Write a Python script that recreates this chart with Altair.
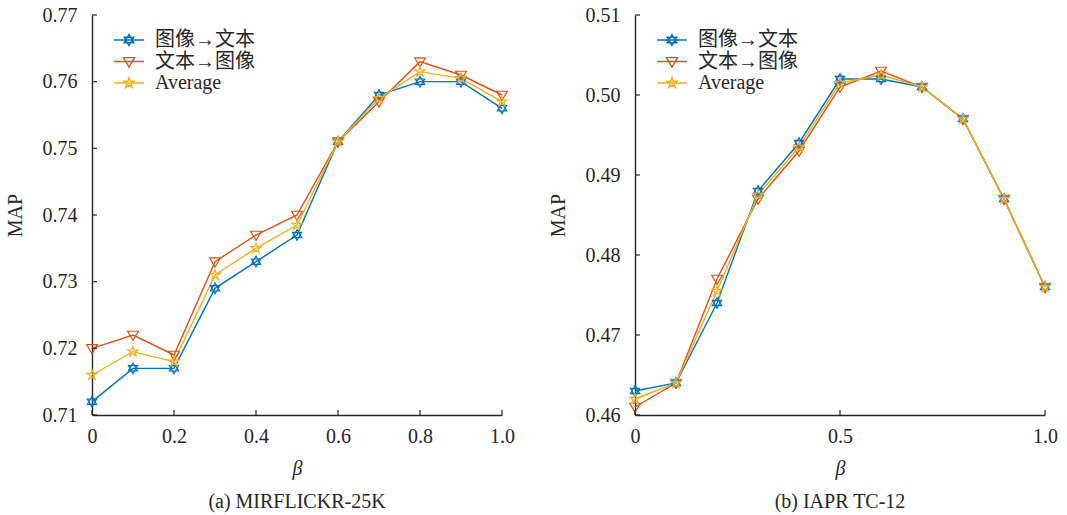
import altair as alt
import pandas as pd

# ---------------- data ----------------
beta = [0.0, 0.1, 0.2, 0.3, 0.4, 0.5, 0.6, 0.7, 0.8, 0.9, 1.0]
series_names = ["图像→文本", "文本→图像", "Average"]
colors = ["#0072BD", "#D95319", "#EDB120"]

mir_i2t = [0.712, 0.717, 0.717, 0.729, 0.733, 0.737, 0.751, 0.758, 0.760, 0.760, 0.756]
mir_t2i = [0.720, 0.722, 0.719, 0.733, 0.737, 0.740, 0.751, 0.757, 0.763, 0.761, 0.758]
mir_avg = [0.716, 0.7195, 0.718, 0.731, 0.735, 0.7385, 0.751, 0.7575, 0.7615, 0.7605, 0.757]

iapr_i2t = [0.463, 0.464, 0.474, 0.488, 0.494, 0.502, 0.502, 0.501, 0.497, 0.487, 0.476]
iapr_t2i = [0.461, 0.464, 0.477, 0.487, 0.493, 0.501, 0.503, 0.501, 0.497, 0.487, 0.476]
iapr_avg = [0.462, 0.464, 0.4755, 0.4875, 0.4935, 0.5015, 0.5025, 0.501, 0.497, 0.487, 0.476]

x_ticks_a = [0, 0.2, 0.4, 0.6, 0.8, 1.0]
y_ticks_a = [0.71, 0.72, 0.73, 0.74, 0.75, 0.76, 0.77]
x_ticks_b = [0, 0.5, 1.0]
y_ticks_b = [0.46, 0.47, 0.48, 0.49, 0.50, 0.51]

# ---------------- marker shapes ----------------
HEX = [[(0, -1), (0.866, 0.5), (-0.866, 0.5)], [(0, 1), (0.866, -0.5), (-0.866, -0.5)]]
TRI = [[(-1, -0.7), (1, -0.7), (0, 1)]]
STAR = [[(0, -1), (0.225, -0.309), (0.951, -0.309), (0.363, 0.118), (0.588, 0.809),
         (0, 0.382), (-0.588, 0.809), (-0.363, 0.118), (-0.951, -0.309), (-0.225, -0.309)]]


def poly_path(polys, s):
    out = []
    for poly in polys:
        pts = ["%.3f,%.3f" % (x * s, y * s) for x, y in poly]
        out.append("M" + "L".join(pts) + "Z")
    return "".join(out)


marker_paths = [poly_path(p, 1.0) for p in (HEX, TRI, STAR)]
legend_paths = ["M-1.5,0L1.5,0" + poly_path(p, 0.55) for p in (HEX, TRI, STAR)]

FONT = "Liberation Serif, Noto Sans CJK SC"
TXT = "#262626"
FS = 20
W, H = 410, 400


def panel(i2t, t2i, avg, xt, yt, ydom, title):
    rows = []
    for name, vals in zip(series_names, (i2t, t2i, avg)):
        for b, v in zip(beta, vals):
            rows.append({"beta": b, "map": v, "series": name})
    df = pd.DataFrame(rows)
    base = alt.Chart(df)

    xscale = alt.Scale(domain=[0, 1], nice=False, zero=False)
    yscale = alt.Scale(domain=ydom, nice=False, zero=False)
    xenc = alt.X("beta:Q", scale=xscale,
                 axis=alt.Axis(values=xt, title="β", titleFontStyle="italic", labelFlush=False,
                               labelExpr="datum.value == 0 ? '0' : format(datum.value, '.1f')",
                               labelPadding=11, titlePadding=12))
    yenc = alt.Y("map:Q", scale=yscale,
                 axis=alt.Axis(values=yt, format=".2f", title="MAP", labelPadding=15,
                               labelFlush=False, titlePadding=17))
    cenc = alt.Color("series:N", scale=alt.Scale(domain=series_names, range=colors), legend=None)

    line = base.mark_line(strokeWidth=1.4).encode(x=xenc, y=yenc, color=cenc)
    pts = base.mark_point(filled=False, size=115, strokeWidth=1.2, opacity=1).encode(
        x=xenc, y=yenc, color=cenc,
        shape=alt.Shape("series:N", scale=alt.Scale(domain=series_names, range=marker_paths),
                        legend=None))

    xtick = alt.Chart(pd.DataFrame({"beta": xt})).mark_rule(color=TXT, strokeWidth=1.2).encode(
        x=xenc, y=alt.value(H), y2=alt.value(H - 5))
    ytick = alt.Chart(pd.DataFrame({"map": yt})).mark_rule(color=TXT, strokeWidth=1.2).encode(
        y=yenc, x=alt.value(0), x2=alt.value(5))

    main = alt.layer(line, pts, xtick, ytick)

    leg_kw = dict(orient="none", legendX=26, legendY=14, title=None, symbolSize=400,
                  symbolStrokeWidth=1.4, symbolOpacity=1, labelFont=FONT, labelFontSize=FS,
                  labelColor=TXT, labelOffset=15, rowPadding=0.5, padding=0)
    leg = base.transform_filter("false").mark_point(filled=False, opacity=1).encode(
        color=alt.Color("series:N", scale=alt.Scale(domain=series_names, range=colors),
                        legend=alt.Legend(**leg_kw)),
        shape=alt.Shape("series:N", scale=alt.Scale(domain=series_names, range=legend_paths),
                        legend=alt.Legend(**leg_kw)))

    return alt.layer(main, leg).resolve_scale(color="independent", shape="independent").properties(
        width=W, height=H,
        title=alt.TitleParams(title, orient="bottom", font=FONT, fontSize=FS,
                              fontWeight="normal", color=TXT, offset=14))


left = panel(mir_i2t, mir_t2i, mir_avg, x_ticks_a, y_ticks_a, [0.71, 0.77], "(a) MIRFLICKR-25K")
right = panel(iapr_i2t, iapr_t2i, iapr_avg, x_ticks_b, y_ticks_b, [0.46, 0.51], "(b) IAPR TC-12")

chart = alt.hconcat(left, right, spacing=33, background="white").resolve_scale(
    color="independent", shape="independent").configure_view(stroke=None).configure_axis(
    grid=False, ticks=False, domainColor=TXT, domainWidth=1.4, labelFont=FONT, labelFontSize=FS,
    labelColor=TXT, titleFont=FONT, titleFontSize=FS, titleFontWeight="normal", titleColor=TXT)

chart.save("out.html", embed_options={"renderer": "svg", "actions": False})
